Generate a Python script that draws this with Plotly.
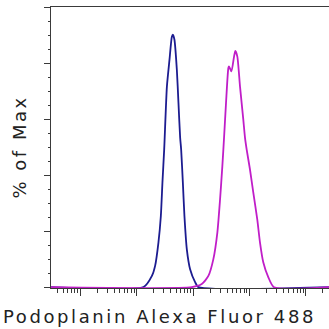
import plotly.graph_objects as go

# Isotype / control histogram (navy)
blue_x = [3, 132, 186, 212, 243, 268, 286, 307, 343, 381, 420, 438, 467, 515, 550,
          589, 614, 658, 702, 774, 885, 1085, 1241, 260000]
blue_y = [0, 0, 4.0, 7.6, 16.0, 25.4, 37.4, 49.1, 71.6, 81.1, 89.4, 90.1, 88.3, 77.6, 65.8,
          53.4, 49.1, 37.4, 25.4, 13.5, 6.4, 1.8, 0, 0]

# Podoplanin stained histogram (magenta)
mag_x = [3, 948, 1426, 1866, 2287, 2692, 3006, 3302, 3540, 3837, 4217, 4335, 4780, 5321,
         5610, 6085, 6792, 7767, 8322, 8918, 10200, 11670, 13740, 15340, 17550, 21520,
         27160, 260000]
mag_y = [0, 0, 1.1, 4.0, 10.0, 19.5, 31.3, 43.2, 53.4, 65.8, 78.2, 78.8, 77.0, 82.3,
         84.3, 82.3, 71.6, 59.8, 53.4, 49.1, 42.0, 33.8, 24.2, 16.0, 8.9, 3.6,
         0, 0]

x_title = "Podoplanin Alexa Fluor 488"
y_title = "% of Max"

fig = go.Figure()
fig.add_trace(go.Scatter(x=blue_x, y=blue_y, mode="lines",
                         line=dict(color="#1c1c90", width=1.8, shape="spline", smoothing=0.6),
                         showlegend=False))
fig.add_trace(go.Scatter(x=mag_x, y=mag_y, mode="lines",
                         line=dict(color="#c01ec8", width=1.8, shape="spline", smoothing=0.6),
                         showlegend=False))

axis_col = "#3a3a3a"
fig.update_layout(
    width=329, height=329,
    margin=dict(l=51, r=0, t=7, b=41),
    paper_bgcolor="white", plot_bgcolor="white",
    font=dict(family="DejaVu Sans", color="#222222"),
    xaxis=dict(type="log", range=[0.48, 5.41], showgrid=False, zeroline=False,
               showticklabels=False, showline=True, linecolor=axis_col, linewidth=1,
               mirror=True, layer="below traces",
               dtick=1, ticks="outside", ticklen=7, tickcolor=axis_col, tickwidth=1,
               minor=dict(ticks="outside", ticklen=4, tickcolor=axis_col, tickwidth=1,
                          dtick="D1", showgrid=False)),
    yaxis=dict(range=[-0.3, 100], showgrid=False, zeroline=False, showticklabels=False,
               showline=True, linecolor=axis_col, linewidth=1,
               dtick=20, ticks="outside", ticklen=6, tickcolor=axis_col, tickwidth=1,
               minor=dict(ticks="outside", ticklen=2.5, tickcolor=axis_col, tickwidth=1,
                          dtick=5, showgrid=False)),
    annotations=[
        dict(text='<span style="letter-spacing:2.6px">' + x_title + '</span>',
             xref="paper", yref="paper", x=(159 - 51) / 278, y=(288 - 316.5) / 281,
             xanchor="center", yanchor="middle", showarrow=False,
             font=dict(size=18, family="DejaVu Sans", color="#222222")),
        dict(text='<span style="letter-spacing:2.5px">' + y_title + '</span>',
             xref="paper", yref="paper", x=(19 - 51) / 278, y=0.5, textangle=-90,
             xanchor="center", yanchor="middle", showarrow=False,
             font=dict(size=18, family="DejaVu Sans", color="#222222")),
    ],
)

fig.write_html("out.html", config={"displayModeBar": False},
               post_script="document.body.style.margin='0';document.body.style.overflow='hidden';")
